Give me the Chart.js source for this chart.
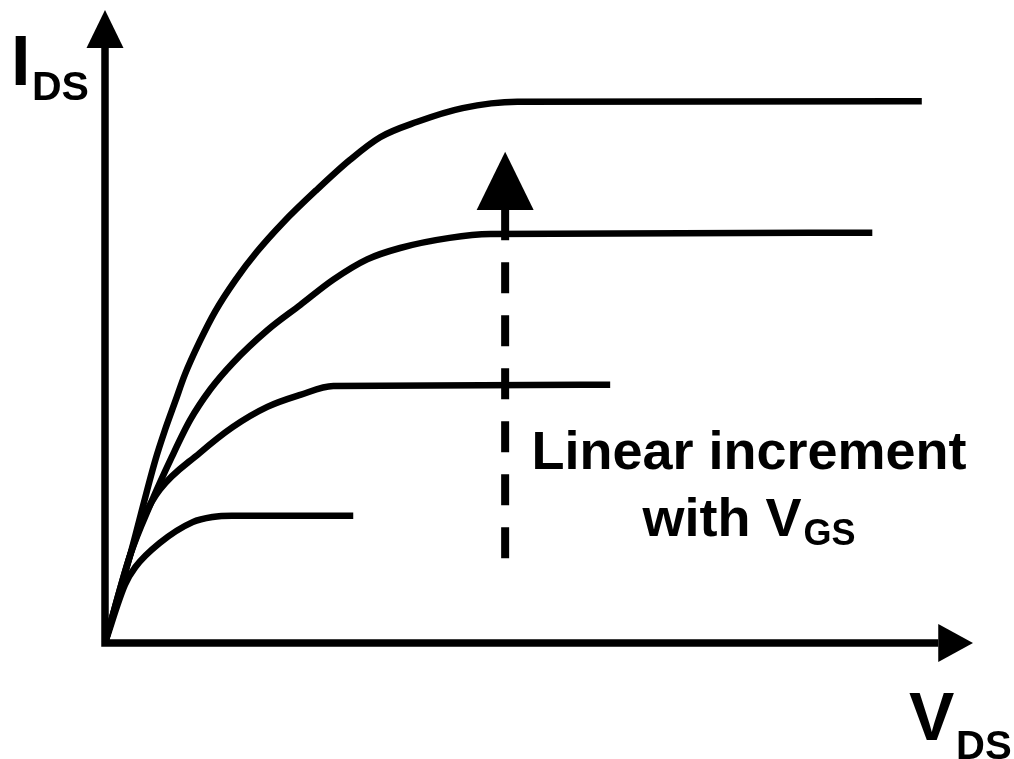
<!DOCTYPE html>
<html>
<head>
<meta charset="utf-8">
<script src="https://cdn.jsdelivr.net/npm/chart.js@4/dist/chart.umd.min.js"></script>
<style>
html,body{margin:0;padding:0;background:#fff;}
#wrap{width:1014px;height:759px;}
</style>
</head>
<body>
<div id="wrap"><canvas id="c" width="1014" height="759"></canvas></div>
<script>
// V_DS / I_DS curve samples (arbitrary units, axis spans 0..10)
const vdsCurve1 = [0, 0.29, 0.58, 0.69, 0.81, 0.92, 1.09, 1.27, 1.50, 1.75, 2.05, 2.44, 2.82, 3.17, 3.59, 4.12, 4.75, 9.41];
const idsCurve1 = [0, 1.39, 2.89, 3.36, 3.82, 4.24, 4.76, 5.24, 5.73, 6.18, 6.64, 7.16, 7.63, 7.99, 8.23, 8.45, 8.55, 8.56];

const vdsCurve2 = [0, 0.29, 0.52, 0.77, 0.98, 1.21, 1.47, 1.87, 2.25, 2.63, 3.02, 3.40, 3.97, 4.44, 8.84];
const idsCurve2 = [0, 1.39, 2.18, 2.94, 3.52, 4.00, 4.42, 4.94, 5.34, 5.74, 6.06, 6.24, 6.40, 6.46, 6.48];

const vdsCurve3 = [0, 0.29, 0.46, 0.63, 1.09, 1.47, 1.87, 2.25, 2.63, 5.82];
const idsCurve3 = [0, 1.39, 2.02, 2.42, 3.00, 3.41, 3.73, 3.92, 4.06, 4.08];

const vdsCurve4 = [0, 0.23, 0.35, 0.63, 1.01, 1.24, 1.46, 2.86];
const idsCurve4 = [0, 0.92, 1.20, 1.58, 1.91, 1.99, 2.01, 2.01];

// "Linear increment with V_GS" arrow (shaft start/end, head tip)
const incArrowX = [4.61, 4.61];
const incArrowY = [1.34, 6.84];
const incArrowTipY = 7.76;

// axis ranges
const vdsRange = [0, 10];
const idsRange = [0, 10];

const pts = (xs, ys) => xs.map((v, i) => ({x: v, y: ys[i]}));

const curveStyle = {
  borderColor: '#000', borderWidth: 6.5, pointRadius: 0, fill: false,
  cubicInterpolationMode: 'monotone', clip: false, borderJoinStyle: 'round', borderCapStyle: 'butt'
};

const decorPlugin = {
  id: 'decor',
  beforeDatasetsDraw(chart) {
    const {ctx, scales: {x, y}} = chart;
    const x0 = x.getPixelForValue(vdsRange[0]);
    const y0 = y.getPixelForValue(idsRange[0]);
    ctx.save();
    ctx.strokeStyle = '#000';
    ctx.lineWidth = 7.5;
    ctx.lineCap = 'butt';
    ctx.beginPath();
    ctx.moveTo(x0, y0 + 3.75);
    ctx.lineTo(x0, y.getPixelForValue(9.40));
    ctx.moveTo(x0 - 3.75, y0);
    ctx.lineTo(x.getPixelForValue(9.60), y0);
    ctx.stroke();
    ctx.restore();
  },
  afterDatasetsDraw(chart) {
    const {ctx, scales: {x, y}} = chart;
    const x0 = x.getPixelForValue(vdsRange[0]);
    const y0 = y.getPixelForValue(idsRange[0]);
    ctx.save();
    ctx.fillStyle = '#000';
    // y axis arrowhead
    const yTip = y.getPixelForValue(idsRange[1]);
    const yBase = y.getPixelForValue(9.40);
    ctx.beginPath();
    ctx.moveTo(x0, yTip);
    ctx.lineTo(x0 - 18.5, yBase);
    ctx.lineTo(x0 + 18.5, yBase);
    ctx.closePath();
    ctx.fill();
    // x axis arrowhead
    const xTip = x.getPixelForValue(vdsRange[1]);
    const xBase = x.getPixelForValue(9.60);
    ctx.beginPath();
    ctx.moveTo(xTip, y0);
    ctx.lineTo(xBase, y0 - 19);
    ctx.lineTo(xBase, y0 + 19);
    ctx.closePath();
    ctx.fill();
    // increment arrowhead
    const ax = x.getPixelForValue(incArrowX[1]);
    const aTip = y.getPixelForValue(incArrowTipY);
    const aBase = y.getPixelForValue(incArrowY[1]);
    ctx.beginPath();
    ctx.moveTo(ax, aTip);
    ctx.lineTo(ax - 28.5, aBase);
    ctx.lineTo(ax + 28.5, aBase);
    ctx.closePath();
    ctx.fill();

    // labels
    const F = '"Liberation Sans", Arial, sans-serif';
    ctx.textBaseline = 'alphabetic';
    ctx.textAlign = 'left';
    ctx.font = 'bold 70px ' + F;
    ctx.fillText('I', 11, 85);
    ctx.font = 'bold 41px ' + F;
    ctx.fillText('DS', 32, 100);

    ctx.font = 'bold 68px ' + F;
    ctx.fillText('V', 909, 740);
    ctx.font = 'bold 40px ' + F;
    ctx.fillText('DS', 956, 759);

    ctx.font = 'bold 54px ' + F;
    ctx.textAlign = 'center';
    ctx.fillText('Linear increment', 749, 469);
    // second line: "with V" + subscript "GS"
    ctx.textAlign = 'left';
    ctx.font = 'bold 54px ' + F;
    const w1 = ctx.measureText('with V').width;
    ctx.font = 'bold 36px ' + F;
    const w2 = ctx.measureText('GS').width;
    const startX = 749 - (w1 + w2 + 2) / 2;
    ctx.font = 'bold 54px ' + F;
    ctx.fillText('with V', startX, 536);
    ctx.font = 'bold 36px ' + F;
    ctx.fillText('GS', startX + w1 + 2, 545);
    ctx.restore();
  }
};

new Chart(document.getElementById('c'), {
  type: 'line',
  data: {
    datasets: [
      Object.assign({label: 'c1', data: pts(vdsCurve1, idsCurve1)}, curveStyle),
      Object.assign({label: 'c2', data: pts(vdsCurve2, idsCurve2)}, curveStyle),
      Object.assign({label: 'c3', data: pts(vdsCurve3, idsCurve3)}, curveStyle),
      Object.assign({label: 'c4', data: pts(vdsCurve4, idsCurve4)}, curveStyle),
      {
        label: 'inc', data: pts(incArrowX, incArrowY),
        borderColor: '#000', borderWidth: 8, borderDash: [31, 22], borderCapStyle: 'butt',
        pointRadius: 0, fill: false, tension: 0, clip: false
      }
    ]
  },
  options: {
    responsive: false,
    animation: false,
    events: [],
    layout: {padding: {left: 105, right: 41, top: 10, bottom: 116}},
    plugins: {legend: {display: false}, tooltip: {enabled: false}, title: {display: false}},
    scales: {
      x: {type: 'linear', min: vdsRange[0], max: vdsRange[1], display: false},
      y: {type: 'linear', min: idsRange[0], max: idsRange[1], display: false}
    }
  },
  plugins: [decorPlugin]
});
</script>
</body>
</html>
